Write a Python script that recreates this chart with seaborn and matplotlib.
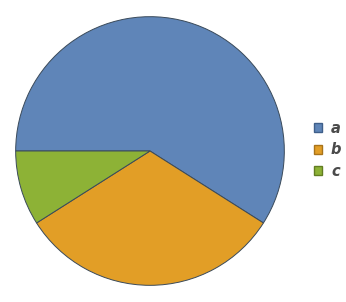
import matplotlib
matplotlib.use("Agg")
import matplotlib.pyplot as plt
import seaborn as sns
from matplotlib.patches import Patch

categories = ["a", "b", "c"]
values = [59, 32, 9]
colors = ["#5f85b8", "#e29e26", "#8db236"]
edge_colors = ["#3f5f8a", "#a8731a", "#627d22"]

sns.set_theme(style="white")
plt.rcParams['font.family'] = ['DejaVu Sans']

W, H = 346, 302
fig = plt.figure(figsize=(W/100, H/100), dpi=100)
cx, cy, r = 150, 151, 135
ax = fig.add_axes([(cx - r)/W, (H - cy - r)/H, 2*r/W, 2*r/H])
ax.pie(values, colors=colors, startangle=180, counterclock=False,
       wedgeprops=dict(edgecolor="#3a4a5a", linewidth=0.7))
ax.set_xlim(-1.005, 1.005)
ax.set_ylim(-1.005, 1.005)
ax.set_aspect("equal")
ax.axis("off")

handles = [Patch(facecolor=c, edgecolor=e, linewidth=1.0, label=l)
           for c, e, l in zip(colors, edge_colors, categories)]
leg = fig.legend(handles=handles, loc="center left", bbox_to_anchor=(308/W, 1 - 150/H),
                 borderaxespad=0, borderpad=0.4,
                 frameon=False, handlelength=0.58, handleheight=0.58,
                 handletextpad=0.6, labelspacing=0.45,
                 prop=dict(weight="bold", style="italic", size=10.5))
for t in leg.get_texts():
    t.set_color("#4a4a4a")

fig.savefig("out.png", dpi=100)
